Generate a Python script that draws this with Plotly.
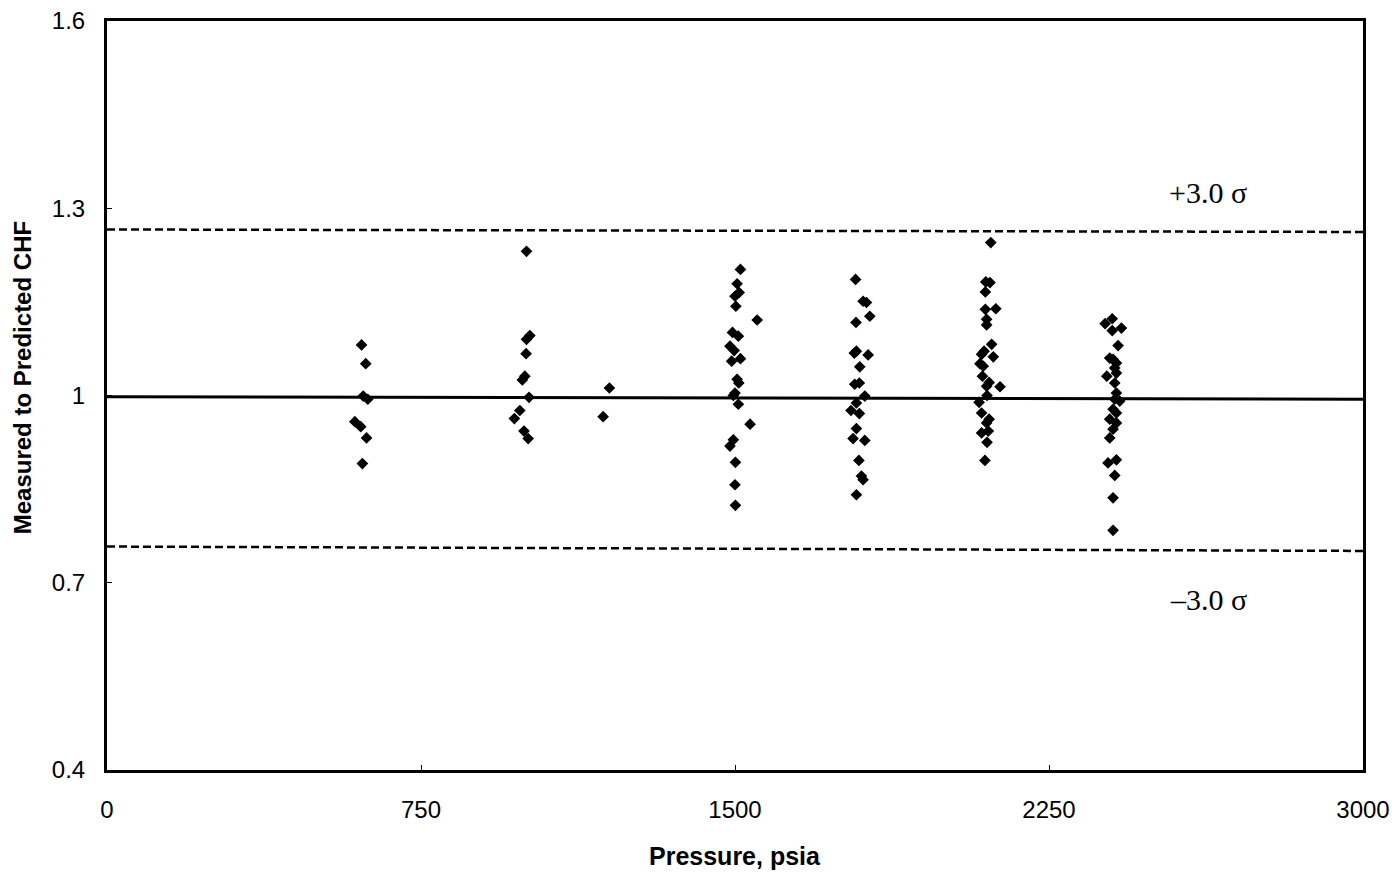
import plotly.graph_objects as go

# ---- data ----
p_600 = [608, 618, 612, 623, 592, 606, 620, 610]
r_600 = [1.081, 1.051, 0.999, 0.994, 0.958, 0.950, 0.932, 0.891]

p_1000 = [1002, 1002, 1010, 1001, 992, 998, 1008, 986, 973, 996, 1006]
r_1000 = [1.231, 1.090, 1.096, 1.067, 1.025, 1.031, 0.997, 0.976, 0.963, 0.943, 0.931]

p_1200 = [1200, 1185]
r_1200 = [1.012, 0.966]

p_1500 = [1513, 1505, 1500, 1510, 1502, 1553, 1494, 1508, 1488, 1498, 1492, 1513,
          1505, 1509, 1500, 1496, 1508, 1536, 1496, 1488, 1501, 1500, 1501]
r_1500 = [1.202, 1.179, 1.159, 1.165, 1.143, 1.121, 1.101, 1.095, 1.079, 1.072, 1.055, 1.059,
          1.026, 1.020, 1.004, 1.000, 0.986, 0.954, 0.929, 0.919, 0.893, 0.857, 0.824]

p_1800 = [1788, 1806, 1814, 1822, 1789, 1785, 1790, 1818, 1798, 1786, 1797, 1810,
          1790, 1777, 1797, 1790, 1782, 1810, 1796, 1802, 1806, 1790]
r_1800 = [1.186, 1.151, 1.149, 1.127, 1.117, 1.068, 1.071, 1.065, 1.046, 1.018, 1.020, 0.999,
          0.988, 0.976, 0.971, 0.947, 0.931, 0.928, 0.896, 0.871, 0.865, 0.841]

p_2100 = [2111, 2099, 2109, 2098, 2098, 2123, 2101, 2101, 2113, 2089, 2095, 2117, 2085, 2093,
          2091, 2107, 2101, 2133, 2102, 2083, 2089, 2107, 2101, 2089, 2105, 2102, 2097]
r_2100 = [1.245, 1.182, 1.181, 1.166, 1.138, 1.139, 1.122, 1.113, 1.082, 1.066, 1.071, 1.062,
          1.051, 1.047, 1.031, 1.021, 1.015, 1.014, 1.000, 0.989, 0.972, 0.962, 0.956, 0.940,
          0.943, 0.925, 0.896]

p_2400 = [2401, 2384, 2423, 2401, 2415, 2395, 2403, 2411, 2407, 2388, 2411, 2407, 2411,
          2407, 2419, 2403, 2411, 2395, 2411, 2403, 2395, 2391, 2411, 2407, 2403, 2403]
r_2400 = [1.123, 1.115, 1.108, 1.104, 1.080, 1.060, 1.058, 1.052, 1.044, 1.031, 1.036, 1.020,
          1.004, 0.994, 0.991, 0.978, 0.972, 0.962, 0.956, 0.946, 0.932, 0.892, 0.897, 0.872,
          0.836, 0.784]

line_x = [0, 3000]
mean_line = [0.998, 0.994]
plus3_line = [1.266, 1.262]
minus3_line = [0.758, 0.751]

x_ticks = [0, 750, 1500, 2250, 3000]
y_ticks = [0.4, 0.7, 1.0, 1.3, 1.6]
y_ticktext = ["0.4", "0.7", "1", "1.3", "1.6"]

# ---- figure ----
fig = go.Figure()

fig.add_trace(go.Scatter(x=line_x, y=mean_line, mode="lines",
                         line=dict(color="black", width=3), hoverinfo="skip"))
fig.add_trace(go.Scatter(x=line_x, y=plus3_line, mode="lines",
                         line=dict(color="black", width=2.5, dash="8px,4px"), hoverinfo="skip"))
fig.add_trace(go.Scatter(x=line_x, y=minus3_line, mode="lines",
                         line=dict(color="black", width=2.5, dash="8px,4px"), hoverinfo="skip"))

all_p = p_600 + p_1000 + p_1200 + p_1500 + p_1800 + p_2100 + p_2400
all_r = r_600 + r_1000 + r_1200 + r_1500 + r_1800 + r_2100 + r_2400
fig.add_trace(go.Scatter(x=all_p, y=all_r, mode="markers",
                         marker=dict(symbol="diamond", size=9, color="black",
                                     line=dict(width=0))))

fig.update_layout(
    width=1398, height=874,
    margin=dict(l=107, r=35, t=21, b=104),
    paper_bgcolor="white", plot_bgcolor="white",
    showlegend=False,
    font=dict(family="Liberation Sans, Arial, sans-serif", color="black", size=24),
    xaxis=dict(range=[0, 3000], tickvals=x_ticks, ticks="inside", ticklen=5,
               tickcolor="black", showgrid=False, zeroline=False, automargin=False,
               showline=True, linecolor="black", linewidth=3, mirror=True,
               ticklabelstandoff=16, tickfont=dict(size=24)),
    yaxis=dict(range=[0.4, 1.6], tickvals=y_ticks, ticktext=y_ticktext,
               ticks="inside", ticklen=5, tickcolor="black",
               showgrid=False, zeroline=False, automargin=False,
               showline=True, linecolor="black", linewidth=3, mirror=True,
               ticklabelstandoff=14, tickfont=dict(size=24)),
    annotations=[
        dict(text="Pressure, psia", xref="paper", yref="paper", x=0.5, y=0,
             xanchor="center", yanchor="middle", yshift=-86, showarrow=False,
             font=dict(size=25, weight="bold")),
        dict(text="Measured to Predicted CHF", xref="paper", yref="paper", x=0, y=0.523,
             xanchor="center", yanchor="middle", xshift=-85, showarrow=False,
             textangle=-90, font=dict(size=24, weight="bold")),
        dict(text="+3.0 σ", x=2630, y=1.325, xref="x", yref="y", showarrow=False,
             font=dict(family="Liberation Serif, Times New Roman, serif", size=30)),
        dict(text="–3.0 σ", x=2630, y=0.673, xref="x", yref="y", showarrow=False,
             font=dict(family="Liberation Serif, Times New Roman, serif", size=30)),
    ],
)

fig.write_html("out.html")
